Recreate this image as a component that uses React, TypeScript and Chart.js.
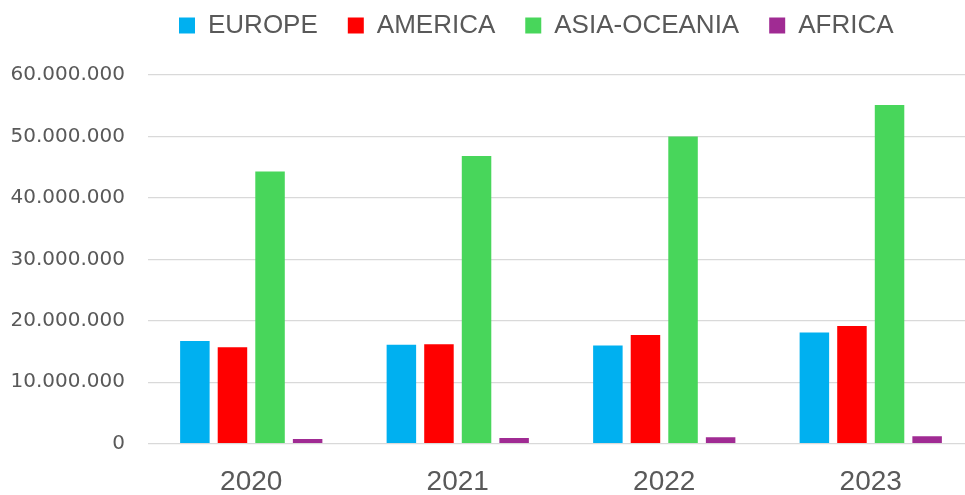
import { useEffect, useRef } from "react";
import { Chart, registerables } from "chart.js";

Chart.register(...registerables);

// Vehicle production by region, per year
const years = ["2020", "2021", "2022", "2023"];
const europe = [16700000, 16100000, 16000000, 18100000];
const america = [15700000, 16200000, 17700000, 19150000];
const asiaOceania = [44300000, 46800000, 50000000, 55100000];
const africa = [760000, 930000, 1040000, 1200000];

const seriesNames = ["EUROPE", "AMERICA", "ASIA-OCEANIA", "AFRICA"];
const seriesColors = ["#00B0F0", "#FF0000", "#48D65B", "#A02B93"];

const yMax = 60000000;
const yStep = 10000000;

const textColor = "#595959";
const gridColor = "#D9D9D9";

const formatThousands = (n: number) =>
  String(Math.round(n)).replace(/\B(?=(\d{3})+(?!\d))/g, ".");

// Reserves room above the plot for the legend and positions its row.
const legendPlacement = {
  id: "legendPlacement",
  beforeInit(chart: any) {
    const legend = chart.legend;
    if (!legend) return;
    const fit = legend.fit;
    legend.fit = function () {
      fit.call(this);
      this.height = 75;
    };
  },
  beforeDraw(chart: any) {
    const legend = chart.legend;
    if (!legend) return;
    legend.left = 149;
    legend.top = -17.5;
  },
};

export default function App() {
  const canvasRef = useRef<HTMLCanvasElement | null>(null);

  useEffect(() => {
    if (!canvasRef.current) return;
    const values = [europe, america, asiaOceania, africa];
    const chart = new Chart(canvasRef.current, {
      type: "bar",
      data: {
        labels: years,
        datasets: values.map((data, i) => ({
          label: seriesNames[i],
          data,
          backgroundColor: seriesColors[i],
          borderWidth: 0,
          categoryPercentage: 0.728,
          barPercentage: 0.785,
        })),
      },
      plugins: [legendPlacement],
      options: {
        responsive: false,
        animation: false,
        devicePixelRatio: 1,
        layout: { padding: { top: 0, left: 10, right: 2, bottom: 0 } },
        plugins: {
          tooltip: { enabled: false },
          legend: {
            position: "top",
            align: "start",
            labels: {
              boxWidth: 16,
              boxHeight: 16,
              padding: 30,
              color: textColor,
              font: { family: "'Liberation Sans', Arial, sans-serif", size: 26 },
            },
          },
        },
        scales: {
          x: {
            grid: { display: false, drawTicks: false },
            border: { display: false },
            ticks: {
              padding: 22,
              color: textColor,
              font: { family: "'Liberation Sans', Arial, sans-serif", size: 28 },
            },
            afterFit: (axis: any) => {
              axis.height = 51.3;
            },
          },
          y: {
            min: 0,
            max: yMax,
            grid: { color: gridColor, lineWidth: 1.3, drawTicks: false },
            border: { display: false },
            ticks: {
              stepSize: yStep,
              padding: 23,
              color: textColor,
              font: { family: "'DejaVu Sans', sans-serif", size: 20 },
              callback: (v: any) => formatThousands(Number(v)),
            },
            afterFit: (axis: any) => {
              axis.width = 138;
            },
          },
        },
      },
    });
    return () => chart.destroy();
  }, []);

  return (
    <div
      style={{
        position: "fixed",
        left: 0,
        top: 0,
        width: 965,
        height: 495,
        overflow: "hidden",
        background: "#ffffff",
      }}
    >
      <canvas
        ref={canvasRef}
        width={976}
        height={495}
        style={{ display: "block", width: 976, height: 495 }}
      />
    </div>
  );
}
